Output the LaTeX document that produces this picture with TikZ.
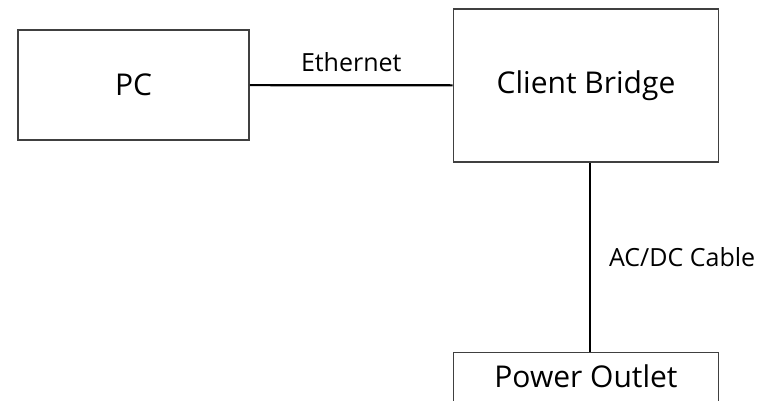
\documentclass[tikz,border=0pt]{standalone}
\usepackage{fontspec}
\setmainfont{Open Sans}
\usetikzlibrary{positioning}
\begin{document}
\begin{tikzpicture}[x=1pt,y=-1pt,
box/.style={draw=black!75,line width=1.6pt,inner sep=0pt,font=\fontsize{30}{36}\selectfont},
cable/.style={line width=2.2pt},
lbl/.style={inner sep=0pt,font=\fontsize{25}{30}\selectfont}]
\useasboundingbox (0,0) rectangle (762,401);
\node[box,minimum width=231pt,minimum height=110pt](pc) at (133.5,85){PC};
\node[box,minimum width=265pt,minimum height=153pt](bridge) at (586,85.5){Client Bridge};
\node[box,minimum width=265pt,anchor=north,text height=35pt,text depth=25pt](outlet) at (586,351.5){Power Outlet};
\coordinate(plug) at ([xshift=4pt]bridge.south);
\draw[cable](pc)--node[lbl,above=12pt]{Ethernet}(bridge);
\draw[cable](plug)--node[lbl,right=18pt]{AC/DC Cable}(plug|-outlet.north);
\end{tikzpicture}
\end{document}
